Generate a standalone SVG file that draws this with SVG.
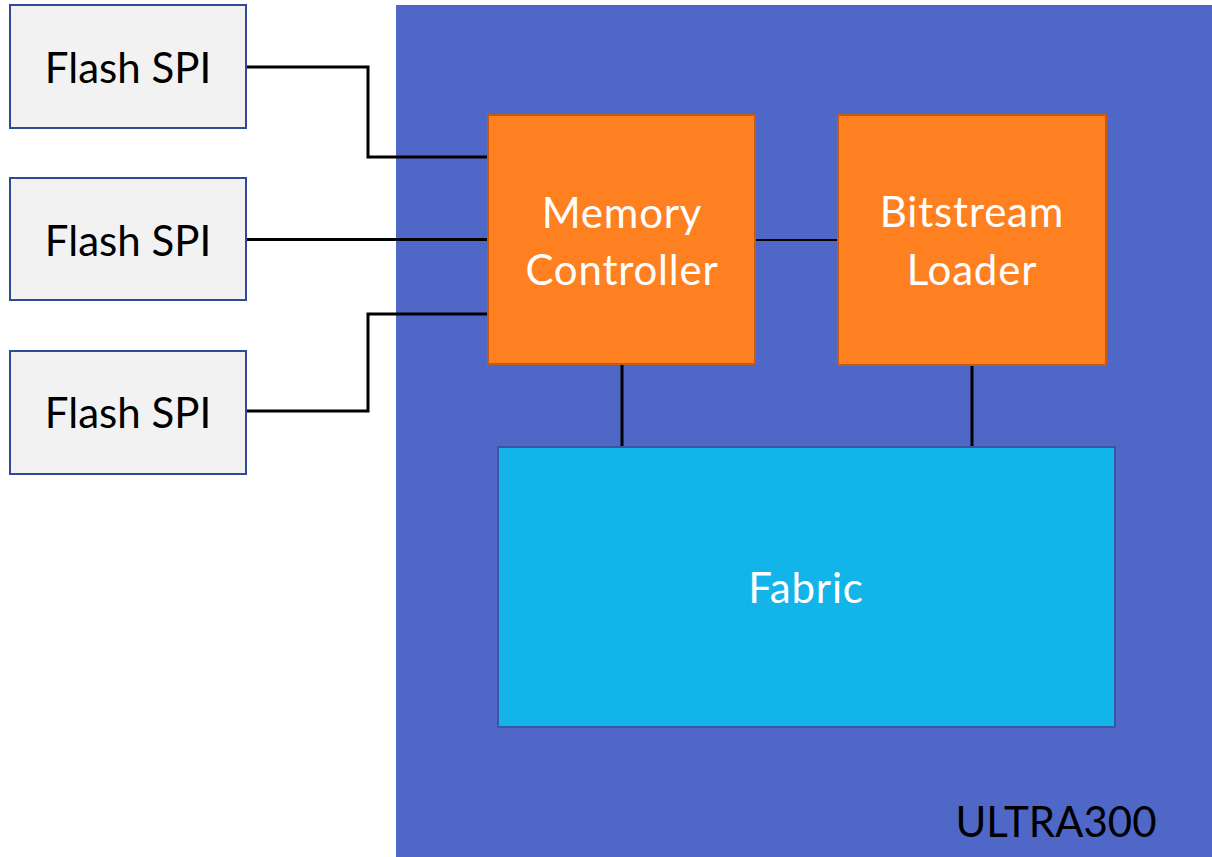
<svg xmlns="http://www.w3.org/2000/svg" width="1212" height="857" viewBox="0 0 1212 857">
  <style>
    .flash { fill: #F2F2F2; stroke: #2F4B96; stroke-width: 2; }
    .block { fill: #FF8021; stroke: #C55A11; stroke-width: 2; }
    .fabric { fill: #13B4EA; stroke: #3A55A5; stroke-width: 2; }
    .lbl { font-family: Lato, "Liberation Sans", sans-serif; font-size: 42px; letter-spacing: 0.8px; text-anchor: middle; }
    .tight { letter-spacing: 0; }
    .dark { fill: #000000; }
    .light { fill: #FFFFFF; }
    .wire { fill: none; stroke: #000000; stroke-width: 3; }
    .wire-thin { fill: none; stroke: #000000; stroke-width: 2; }
  </style>

  <rect width="1212" height="857" fill="#FFFFFF"/>

  <!-- chip outline -->
  <g id="ultra300">
    <rect x="396" y="5" width="816" height="852" fill="#4F67C7"/>
    <text class="lbl tight dark" x="1056" y="837">ULTRA300</text>
  </g>

  <!-- connectors -->
  <g id="connectors">
    <polyline class="wire" points="246,67 368,67 368,157 488,157"/>
    <polyline class="wire" points="246,239.5 488,239.5"/>
    <polyline class="wire" points="246,411 368,411 368,314 488,314"/>
    <line class="wire-thin" x1="756" y1="240" x2="838" y2="240"/>
    <line class="wire" x1="622" y1="364" x2="622" y2="447"/>
    <line class="wire" x1="972" y1="366" x2="972" y2="447"/>
  </g>

  <g id="flash1">
    <rect class="flash" x="10" y="5" width="236" height="123"/>
    <text class="lbl tight dark" x="128" y="83">Flash SPI</text>
  </g>
  <g id="flash2">
    <rect class="flash" x="10" y="178" width="236" height="122"/>
    <text class="lbl tight dark" x="128" y="256">Flash SPI</text>
  </g>
  <g id="flash3">
    <rect class="flash" x="10" y="351" width="236" height="123"/>
    <text class="lbl tight dark" x="128" y="428">Flash SPI</text>
  </g>

  <g id="memory-controller">
    <rect class="block" x="488" y="115" width="267" height="249"/>
    <text class="lbl light" x="622" y="228">Memory</text>
    <text class="lbl light" x="622" y="285">Controller</text>
  </g>

  <g id="bitstream-loader">
    <rect class="block" x="838" y="115" width="268" height="250"/>
    <text class="lbl light" x="972" y="227">Bitstream</text>
    <text class="lbl light" x="972" y="285">Loader</text>
  </g>

  <g id="fabric">
    <rect class="fabric" x="498" y="447" width="617" height="280"/>
    <text class="lbl light" x="806" y="603">Fabric</text>
  </g>
</svg>
